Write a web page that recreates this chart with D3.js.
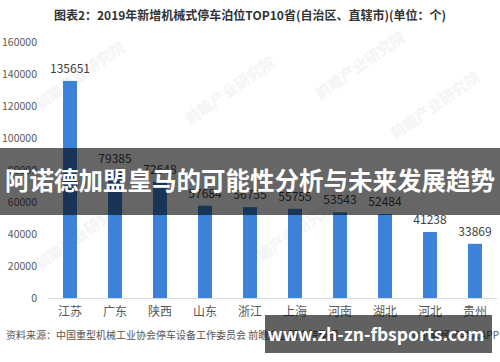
<!DOCTYPE html>
<html>
<head>
<meta charset="utf-8">
<script src="https://cdn.jsdelivr.net/npm/d3@7"></script>
<style>
  html, body { margin: 0; padding: 0; background: #fff; }
  svg { display: block; }
</style>
</head>
<body>
<div id="chart"></div>
<script>
// data
var provinces = ["江苏", "广东", "陕西", "山东", "浙江", "上海", "河南", "湖北", "河北", "贵州"];
var parkingSpots = [135651, 79385, 72648, 57684, 56755, 55755, 53543, 52484, 41238, 33869];
var yTicks = [0, 20000, 40000, 60000, 80000, 100000, 120000, 140000, 160000];

var titleText = "图表2：2019年新增机械式停车泊位TOP10省(自治区、直辖市)(单位：个)";
var sourceText = "资料来源：中国重型机械工业协会停车设备工作委员会 前瞻产业研究院整理";
var appText = "@前瞻经济学人APP";
var bannerText = "阿诺德加盟皇马的可能性分析与未来发展趋势";
var siteText = "www.zh-zn-fbsports.com";

var width = 500, height = 362;
var font = "'Noto Sans CJK SC', 'Noto Sans', sans-serif";

var svg = d3.select("#chart")
    .append("svg")
    .attr("width", width)
    .attr("height", height);

// faint watermarks
var marks = [[40, 110], [190, 125], [320, 100], [395, 140], [40, 270], [250, 270]];
svg.selectAll(".wm")
    .data(marks)
    .enter().append("text")
    .attr("class", "wm")
    .attr("transform", function (d) { return "translate(" + d[0] + "," + d[1] + ") rotate(-35)"; })
    .style("font-family", font)
    .style("font-size", "15px")
    .style("font-weight", "700")
    .style("fill", "#f3f4f6")
    .text("前瞻产业研究院");

// title
svg.append("text")
    .attr("x", 250)
    .attr("y", 20)
    .style("text-anchor", "middle")
    .style("font-family", font)
    .style("font-size", "12px")
    .style("font-weight", "700")
    .style("fill", "#333")
    .text(titleText);

// scales
var x = d3.scaleBand()
    .domain(provinces)
    .range([47.5, 497.5])
    .paddingInner(0.69)
    .paddingOuter(0.345);

var y = d3.scaleLinear()
    .domain([0, 160000])
    .range([298, 42]);

// y axis labels
svg.append("g")
    .attr("transform", "translate(40,0)")
    .style("font-family", font)
    .style("font-size", "10.5px")
    .call(d3.axisLeft(y).tickValues(yTicks).tickSize(0).tickPadding(3).tickFormat(d3.format("d")))
    .call(g => g.select(".domain").remove())
    .call(g => g.selectAll("text").style("fill", "#595959"));

// bars
svg.selectAll(".bar")
    .data(parkingSpots)
    .enter().append("rect")
    .attr("class", "bar")
    .attr("x", function (d, i) { return x(provinces[i]); })
    .attr("width", x.bandwidth())
    .attr("y", function (d) { return y(d); })
    .attr("height", function (d) { return y(0) - y(d); })
    .style("fill", "#3c82d8");

// value labels
svg.selectAll(".val")
    .data(parkingSpots)
    .enter().append("text")
    .attr("class", "val")
    .attr("x", function (d, i) { return x(provinces[i]) + x.bandwidth() / 2; })
    .attr("y", function (d) { return y(d) - 8; })
    .style("text-anchor", "middle")
    .style("font-family", font)
    .style("font-size", "12px")
    .style("fill", "#404040")
    .text(function (d) { return d; });

// x axis
svg.append("g")
    .attr("transform", "translate(0," + y(0) + ")")
    .style("font-family", font)
    .style("font-size", "12px")
    .call(d3.axisBottom(x).tickSize(0).tickPadding(9))
    .call(g => g.select(".domain").style("stroke", "#d9d9d9").attr("d", "M48,0.5H497"))
    .call(g => g.selectAll("text").style("fill", "#595959"));

// source line
svg.append("text")
    .attr("x", 6)
    .attr("y", 339)
    .style("font-family", font)
    .style("font-size", "10px")
    .style("fill", "#555")
    .text(sourceText);

svg.append("text")
    .attr("x", 499)
    .attr("y", 339)
    .style("text-anchor", "end")
    .style("font-family", font)
    .style("font-size", "10px")
    .style("fill", "#555")
    .text(appText);

// dark banner across the middle
svg.append("rect")
    .attr("x", 0)
    .attr("y", 148)
    .attr("width", width)
    .attr("height", 67)
    .style("fill", "rgba(0,0,0,0.6)");

svg.append("text")
    .attr("x", 250)
    .attr("y", 190)
    .style("text-anchor", "middle")
    .style("font-family", font)
    .style("font-size", "24.5px")
    .style("font-weight", "700")
    .style("fill", "#fff")
    .text(bannerText);

// site box bottom right
svg.append("rect")
    .attr("x", 265)
    .attr("y", 315)
    .attr("width", 227)
    .attr("height", 38)
    .style("fill", "rgba(0,0,0,0.62)");

svg.append("text")
    .attr("x", 376)
    .attr("y", 341)
    .style("text-anchor", "middle")
    .style("font-family", font)
    .style("font-size", "17.5px")
    .style("font-weight", "700")
    .style("fill", "#fff")
    .text(siteText);
</script>
</body>
</html>
